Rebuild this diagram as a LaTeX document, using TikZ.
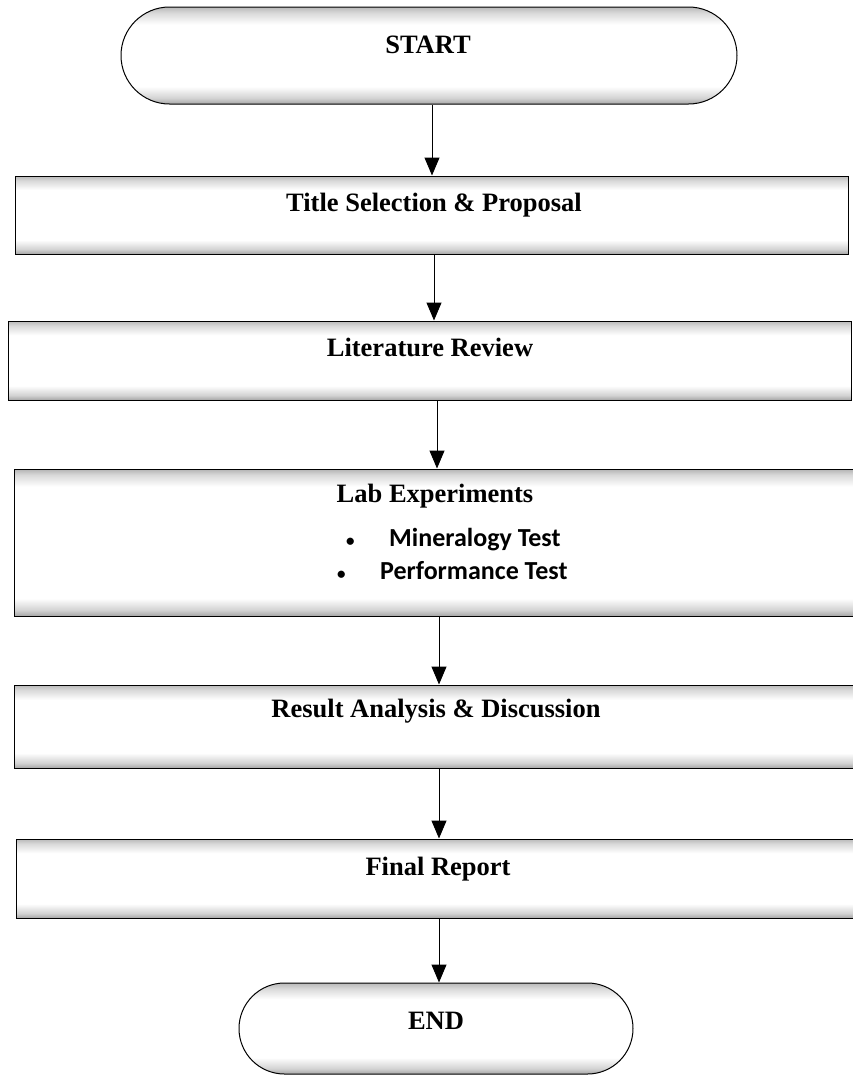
\documentclass[tikz,border=0pt]{standalone}
\usepackage{fontspec}
\setmainfont{Liberation Serif}
\newfontfamily\calfont{Carlito}
\usetikzlibrary{arrows.meta,shapes.misc}
\pgfdeclareverticalshading{boxshade}{100bp}{color(0bp)=(gray!70); color(25bp)=(gray!70); color(28bp)=(gray!35); color(34bp)=(white); color(66bp)=(white); color(72bp)=(gray!30); color(75bp)=(gray!55); color(100bp)=(gray!55)}
\pgfdeclareverticalshading{tallshade}{100bp}{color(0bp)=(gray!70); color(25bp)=(gray!70); color(27bp)=(gray!35); color(31bp)=(white); color(69bp)=(white); color(73bp)=(gray!30); color(75bp)=(gray!60); color(100bp)=(gray!60)}
\begin{document}
\begin{tikzpicture}[x=1pt,y=-1pt,
  procbox/.style={draw=black, line width=1pt, shade, shading=boxshade, rectangle, inner sep=0pt},
  termbox/.style={draw=black, line width=1pt, shade, shading=boxshade, rounded rectangle, inner sep=0pt},
  lbl/.style={font=\fontsize{26.5}{30}\selectfont\bfseries, anchor=base, inner sep=0pt},
  item/.style={font=\calfont\fontsize{26}{30}\selectfont\bfseries, anchor=base west, inner sep=0pt},
  arr/.style={line width=1pt, -{Triangle[width=15pt,length=18pt]}}]
\useasboundingbox (0,0) rectangle (852,1077);
% shapes
\node[termbox, minimum width=616pt, minimum height=97pt] (start) at (429,55.5) {};
\node[procbox, minimum width=833pt, minimum height=78pt] (title) at (431.5,215) {};
\node[procbox, minimum width=843pt, minimum height=79pt] (lit) at (429.5,360.5) {};
\node[procbox, shading=tallshade, minimum width=842pt, minimum height=147pt] (lab) at (435,542.5) {};
\node[procbox, minimum width=842pt, minimum height=83pt] (res) at (435,726.5) {};
\node[procbox, minimum width=840pt, minimum height=79pt] (fin) at (436,878.5) {};
\node[termbox, minimum width=394pt, minimum height=91pt] (end) at (436,1028.5) {};
% texts
\node[lbl] (startt) at (428,53) {START};
\node[lbl] (titlet) at (434,211) {Title Selection \& Proposal};
\node[lbl] (litt) at (430,356) {Literature Review};
\node[lbl] (labt) at (435,502) {Lab Experiments};
\node[item] (mint) at (346,546) {\makebox[43pt][l]{\fontsize{17}{20}\selectfont •}Mineralogy Test};
\node[item] (perft) at (337,579) {\makebox[43pt][l]{\fontsize{17}{20}\selectfont •}Performance Test};
\node[lbl] (rest) at (436,717) {Result Analysis \& Discussion};
\node[lbl] (fint) at (438,875) {Final Report};
\node[lbl] (endt) at (436,1029) {END};
% connector columns
\coordinate (c1) at (432,0);
\coordinate (c2) at (434,0);
\coordinate (c3) at (437,0);
\coordinate (c4) at (439,0);
% connectors
\draw[arr] (start.south -| c1) -- (title.north -| c1);
\draw[arr] (title.south -| c2) -- (lit.north -| c2);
\draw[arr] (lit.south -| c3) -- (lab.north -| c3);
\draw[arr] (lab.south -| c4) -- (res.north -| c4);
\draw[arr] (res.south -| c4) -- (fin.north -| c4);
\draw[arr] (fin.south -| c4) -- (end.north -| c4);
\end{tikzpicture}
\end{document}
